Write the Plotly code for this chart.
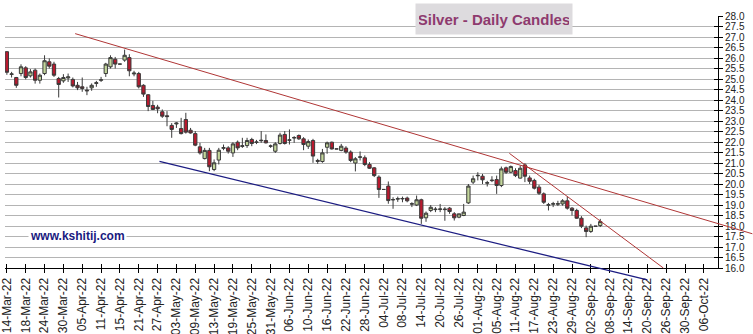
import pandas as pd
import plotly.graph_objects as go

# ---- daily silver OHLC, one row per weekday from 14-Mar-22 ----
start_date = "2022-03-14"
opens = [26.30, 25.22, 25.07, 25.26, 25.53, 25.15, 25.42, 24.94, 25.26, 25.82,
         25.71, 25.02, 24.91, 25.05, 24.98, 24.70, 24.63, 24.47, 24.58, 24.79,
         24.94, 25.26, 25.58, 25.94, 25.71, 25.90, 26.02, 25.24, 25.26, 24.70,
         24.25, 23.74, 23.66, 23.44, 23.25, 22.79, 22.86, 22.64, 23.07, 22.56,
         22.40, 21.77, 21.21, 21.60, 20.69, 21.14, 21.70, 21.72, 21.48, 21.99,
         21.79, 21.83, 22.12, 21.98, 22.06, 22.07, 21.80, 21.56, 21.93, 22.36,
         22.08, 22.19, 22.31, 22.15, 21.80, 22.07, 21.12, 21.07, 21.75, 21.99,
         21.67, 21.60, 21.71, 21.52, 21.00, 21.27, 21.25, 20.93, 20.77, 20.33,
         19.74, 19.90, 19.24, 19.28, 19.29, 19.33, 19.04, 19.00, 19.25, 18.39,
         18.74, 18.78, 18.79, 18.78, 18.85, 18.58, 18.42, 18.50, 19.10, 20.09,
         20.39, 20.37, 20.04, 20.16, 20.21, 19.93, 20.77, 20.56, 20.64, 20.28,
         20.91, 20.29, 20.17, 19.85, 19.53, 18.99, 19.04, 19.04, 19.05, 19.20,
         18.85, 18.74, 18.37, 17.91, 17.74, 17.99, 18.02]
highs = [26.32, 25.34, 25.10, 25.70, 25.61, 25.47, 25.50, 25.26, 26.13, 25.98,
         25.82, 25.10, 25.23, 25.26, 25.07, 24.86, 25.07, 24.63, 24.79, 24.91,
         25.10, 25.77, 26.13, 26.05, 25.71, 26.40, 26.18, 25.39, 25.34, 24.75,
         24.28, 23.96, 23.77, 23.55, 23.47, 22.90, 22.94, 23.15, 23.39, 22.67,
         22.52, 21.96, 21.72, 21.72, 21.17, 21.72, 21.88, 21.80, 21.99, 22.07,
         22.20, 22.20, 22.20, 22.10, 22.52, 22.36, 21.88, 21.99, 22.44, 22.52,
         22.60, 22.28, 22.36, 22.23, 22.12, 22.15, 21.20, 21.67, 22.02, 22.02,
         21.67, 21.91, 21.80, 21.60, 21.28, 21.55, 21.36, 21.04, 20.80, 20.41,
         19.74, 20.12, 19.37, 19.40, 19.40, 19.40, 19.13, 19.45, 19.30, 18.69,
         19.00, 18.90, 19.05, 18.90, 18.90, 18.66, 18.58, 19.05, 20.00, 20.40,
         20.56, 20.48, 20.15, 20.37, 20.40, 20.83, 20.83, 20.88, 20.75, 20.88,
         20.99, 20.40, 20.25, 19.96, 19.60, 19.10, 19.15, 19.20, 19.28, 19.40,
         18.90, 18.82, 18.47, 18.02, 18.10, 17.99, 18.34]
lows = [25.20, 25.07, 24.58, 25.13, 24.98, 25.07, 24.78, 24.78, 25.18, 25.50,
        25.10, 24.12, 24.82, 24.86, 24.60, 24.47, 24.39, 24.23, 24.44, 24.63,
        24.86, 25.10, 25.50, 25.50, 25.71, 25.82, 25.13, 25.13, 24.55, 24.15,
        23.47, 23.52, 23.37, 23.15, 22.75, 22.20, 22.67, 22.36, 22.40, 22.40,
        21.80, 21.40, 21.17, 20.61, 20.61, 20.93, 21.61, 21.45, 21.29, 21.61,
        21.72, 21.72, 21.80, 21.90, 21.96, 21.93, 21.72, 21.48, 21.88, 21.88,
        21.88, 21.96, 22.10, 21.61, 21.67, 21.01, 20.96, 21.01, 21.44, 21.64,
        21.67, 21.56, 21.44, 21.04, 20.60, 21.12, 20.85, 20.72, 20.33, 19.34,
        19.74, 19.06, 18.82, 19.15, 19.13, 19.13, 18.90, 18.95, 18.10, 18.20,
        18.66, 18.66, 18.66, 18.25, 18.58, 18.26, 18.37, 18.47, 19.05, 20.00,
        20.17, 20.00, 19.88, 20.09, 19.53, 19.85, 20.48, 20.52, 20.33, 20.26,
        20.09, 20.00, 19.74, 19.48, 19.05, 18.74, 18.90, 18.95, 18.97, 18.78,
        18.50, 18.34, 17.90, 17.47, 17.67, 17.99, 17.95]
closes = [25.32, 25.24, 24.70, 25.58, 25.07, 25.34, 24.94, 25.18, 25.87, 25.61,
          25.18, 24.74, 25.07, 25.10, 24.67, 24.58, 24.55, 24.44, 24.70, 24.82,
          24.96, 25.71, 26.02, 25.71, 25.71, 26.13, 25.39, 25.28, 24.63, 24.28,
          23.69, 23.55, 23.58, 23.23, 23.21, 22.60, 22.90, 22.40, 22.47, 22.43,
          21.85, 21.48, 21.60, 20.82, 21.01, 21.61, 21.73, 21.56, 21.91, 21.72,
          21.82, 22.07, 21.93, 22.00, 22.08, 21.96, 21.81, 21.91, 22.33, 21.93,
          22.10, 22.21, 22.15, 21.88, 22.02, 21.33, 21.08, 21.48, 21.96, 21.67,
          21.67, 21.80, 21.52, 21.12, 21.20, 21.29, 20.93, 20.75, 20.40, 19.74,
          19.74, 19.21, 19.26, 19.30, 19.31, 19.20, 19.06, 19.25, 18.37, 18.61,
          18.89, 18.80, 18.81, 18.80, 18.69, 18.39, 18.58, 18.66, 19.90, 20.25,
          20.41, 20.20, 20.06, 20.18, 19.93, 20.72, 20.56, 20.83, 20.40, 20.75,
          20.37, 20.13, 19.80, 19.56, 19.13, 19.01, 19.06, 19.06, 19.20, 18.85,
          18.74, 18.37, 17.99, 17.74, 17.99, 17.99, 18.21]

# ---- hand-drawn trend lines: (weekday index, price) end points ----
resistance_x = [14.5, 158.3]
resistance_y = [27.16, 17.63]
short_res_x = [106.7, 139.4]
short_res_y = [21.46, 16.00]
support_x = [32.4, 136.0]
support_y = [21.08, 15.43]

# ---- axes ----
axis_end_date = "2022-10-11"
tick_step = 4
y_range = [16, 28]
x_range = [-0.4, 151.0]

dates = pd.bdate_range(start_date, periods=len(opens))
xpos = list(range(len(dates)))
axis_days = pd.bdate_range(start_date, axis_end_date)
tick_idx = list(range(0, len(axis_days) - 2, tick_step))
tick_txt = [axis_days[i].strftime("%d-%b-%y") for i in tick_idx]

FONT = "Arial, Liberation Sans, sans-serif"

fig = go.Figure()
fig.add_trace(go.Candlestick(
    x=xpos, open=opens, high=highs, low=lows, close=closes,
    increasing=dict(fillcolor="#c3d69b", line=dict(color="#3a3a3a", width=1)),
    decreasing=dict(fillcolor="#b8192e", line=dict(color="#3a3a3a", width=1)),
    whiskerwidth=0, showlegend=False, hoverinfo="skip",
))
# empty trace so the overlay axes (inner half of the cross ticks) are drawn
fig.add_trace(go.Scatter(x=[None], y=[None], xaxis="x2", yaxis="y2",
                         showlegend=False, hoverinfo="skip"))


def to_paper(xs, ys):
    px = [(v - x_range[0]) / (x_range[1] - x_range[0]) for v in xs]
    py = [(v - y_range[0]) / (y_range[1] - y_range[0]) for v in ys]
    return px, py


for lx, ly, col, w in [(resistance_x, resistance_y, "#b03636", 1),
                       (short_res_x, short_res_y, "#b03636", 1),
                       (support_x, support_y, "#1c1c82", 1.3)]:
    px, py = to_paper(lx, ly)
    fig.add_shape(type="line", xref="paper", yref="paper",
                  x0=px[0], y0=py[0], x1=px[1], y1=py[1],
                  line=dict(color=col, width=w), layer="above")

fig.add_annotation(
    text="<b>Silver - Daily Candles</b>", xref="paper", yref="paper",
    x=0.686, y=0.988, xanchor="center", yanchor="middle", showarrow=False,
    font=dict(family=FONT, size=15, color="#8e3a6e"),
    bgcolor="#dddbde", width=150, height=24, borderpad=3,
)
fig.add_annotation(
    text="<b>www.kshitij.com</b>", xref="paper", yref="paper",
    x=0.1016, y=0.127, xanchor="center", yanchor="middle", showarrow=False,
    font=dict(family=FONT, size=12, color="#1a1a80"),
    bgcolor="white", borderpad=1,
)

fig.update_layout(
    width=753, height=334,
    margin=dict(l=5, r=35, t=16, b=66),
    paper_bgcolor="white", plot_bgcolor="white",
    boxgap=0.3, boxgroupgap=0,
    font=dict(family=FONT, color="#222222"),
    xaxis=dict(
        range=x_range, rangeslider=dict(visible=False), automargin=False,
        tickmode="array", tickvals=tick_idx, ticktext=tick_txt,
        tickangle=-90, tickfont=dict(size=12, color="#222222"),
        ticklabeloverflow="allow",
        ticks="outside", ticklen=4, tickcolor="black",
        showgrid=False, zeroline=False,
        showline=True, linecolor="black", linewidth=1,
    ),
    yaxis=dict(
        range=y_range, side="right", dtick=0.5, tick0=16, automargin=False,
        tickformat=".1f", tickfont=dict(size=10, color="#222222"),
        ticklabeloverflow="allow",
        ticks="outside", ticklen=4, tickcolor="black",
        showgrid=True, gridcolor="#b4b4b4", gridwidth=1,
        zeroline=False, showline=True, linecolor="black", linewidth=1,
    ),
    xaxis2=dict(
        overlaying="x", anchor="y2", range=x_range, automargin=False,
        tickmode="array", tickvals=tick_idx, showticklabels=False,
        ticks="inside", ticklen=4, tickcolor="black",
        showgrid=False, zeroline=False, showline=False,
    ),
    yaxis2=dict(
        overlaying="y", anchor="x2", side="right", range=y_range,
        automargin=False,
        dtick=0.5, tick0=16, showticklabels=False,
        ticks="inside", ticklen=4, tickcolor="black",
        showgrid=False, zeroline=False, showline=False,
    ),
)

fig.write_html("out.html")
